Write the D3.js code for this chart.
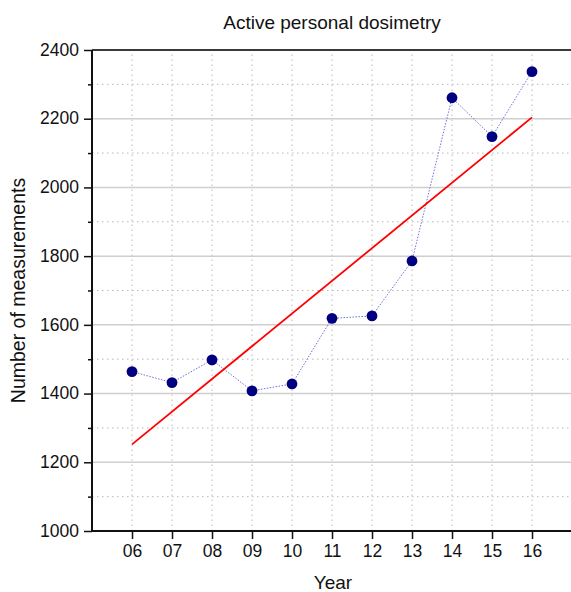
<!DOCTYPE html>
<html>
<head>
<meta charset="utf-8">
<script src="https://cdn.jsdelivr.net/npm/d3@7"></script>
<style>
    body { margin: 0; background: #fff; }
    svg { display: block; font-family: "Liberation Sans", Arial, sans-serif; }
</style>
</head>
<body>
<div id="chart"></div>
<script>
// values
var years = [2006, 2007, 2008, 2009, 2010, 2011, 2012, 2013, 2014, 2015, 2016];
var yearLabels = ['06', '07', '08', '09', '10', '11', '12', '13', '14', '15', '16'];
var measurements = [1464, 1432, 1498, 1408, 1428, 1619, 1626, 1786, 2261, 2148, 2337];
var trendYears = [2006, 2016];
var trendValues = [1252, 2204];
var yMajorTicks = [1000, 1200, 1400, 1600, 1800, 2000, 2200, 2400];
var yMinorTicks = [1100, 1300, 1500, 1700, 1900, 2100, 2300];

var width = 571;
var height = 592;
var margin = {top: 50, right: -1, bottom: 61, left: 92};

var svg = d3.select('#chart')
    .append('svg')
    .attr('width', width)
    .attr('height', height);

var x = d3.scaleLinear()
    .domain([2005, 2017])
    .range([margin.left, width - margin.right]);

var y = d3.scaleLinear()
    .domain([1000, 2400])
    .range([height - margin.bottom, margin.top]);

// grid
var grid = svg.append('g');
grid.selectAll('line.vgrid')
    .data(years)
    .enter().append('line')
    .attr('x1', function(d) { return x(d); })
    .attr('x2', function(d) { return x(d); })
    .attr('y1', y(1000))
    .attr('y2', y(2400))
    .attr('stroke', '#b8b8b8')
    .attr('stroke-width', 1)
    .attr('stroke-dasharray', '1.5,3.5');

grid.selectAll('line.minor')
    .data(yMinorTicks)
    .enter().append('line')
    .attr('x1', x(2005))
    .attr('x2', width)
    .attr('y1', function(d) { return y(d); })
    .attr('y2', function(d) { return y(d); })
    .attr('stroke', '#b8b8b8')
    .attr('stroke-width', 1)
    .attr('stroke-dasharray', '1.5,3.5');

grid.selectAll('line.major')
    .data(yMajorTicks.slice(1, -1))
    .enter().append('line')
    .attr('x1', x(2005))
    .attr('x2', width)
    .attr('y1', function(d) { return y(d); })
    .attr('y2', function(d) { return y(d); })
    .attr('stroke', '#cfcfcf')
    .attr('stroke-width', 1.5);

// top frame line
svg.append('line')
    .attr('x1', x(2005))
    .attr('x2', width)
    .attr('y1', y(2400))
    .attr('y2', y(2400))
    .attr('stroke', '#3a3a3a')
    .attr('stroke-width', 2);

// axes
var yAxis = d3.axisLeft(y)
    .tickValues(yMajorTicks)
    .tickSize(8)
    .tickPadding(5)
    .tickFormat(d3.format('d'));
var yMinor = d3.axisLeft(y)
    .tickValues(yMinorTicks)
    .tickSize(4)
    .tickFormat('');
var xAxis = d3.axisBottom(x)
    .tickValues(years)
    .tickSize(8)
    .tickPadding(6)
    .tickFormat(function(d, i) { return yearLabels[i]; });

var yAxisG = svg.append('g')
    .attr('transform', 'translate(' + margin.left + ' 0)')
    .call(yAxis);
var yMinorG = svg.append('g')
    .attr('transform', 'translate(' + margin.left + ' 0)')
    .call(yMinor);
var xAxisG = svg.append('g')
    .attr('transform', 'translate(0 ' + (height - margin.bottom) + ')')
    .call(xAxis);

[yAxisG, yMinorG, xAxisG].forEach(function(g) {
    g.select('.domain').remove();
    g.selectAll('.tick line').attr('stroke', '#111').attr('stroke-width', 1.5);
    g.selectAll('.tick text')
        .attr('fill', '#111')
        .style('font-size', '17.5px')
        .style('font-family', '"Liberation Sans", Arial, sans-serif');
});
yAxisG.selectAll('.tick text').attr('dy', '0.3em');

svg.append('line')
    .attr('x1', margin.left)
    .attr('x2', margin.left)
    .attr('y1', y(2400))
    .attr('y2', y(1000) + 1)
    .attr('stroke', '#111')
    .attr('stroke-width', 2);
svg.append('line')
    .attr('x1', margin.left)
    .attr('x2', width)
    .attr('y1', y(1000))
    .attr('y2', y(1000))
    .attr('stroke', '#111')
    .attr('stroke-width', 2);

// data line
var line = d3.line()
    .x(function(d, i) { return x(years[i]); })
    .y(function(d) { return y(d); });

svg.append('path')
    .datum(measurements)
    .attr('d', line)
    .attr('fill', 'none')
    .attr('stroke', '#7070d8')
    .attr('stroke-width', 1)
    .attr('stroke-dasharray', '1.5,1.5');

// linear fit
var trendLine = d3.line()
    .x(function(d, i) { return x(trendYears[i]); })
    .y(function(d) { return y(d); });

svg.append('path')
    .datum(trendValues)
    .attr('d', trendLine)
    .attr('fill', 'none')
    .attr('stroke', '#ff0000')
    .attr('stroke-width', 1.8);

svg.selectAll('circle')
    .data(measurements)
    .enter().append('circle')
    .attr('cx', function(d, i) { return x(years[i]); })
    .attr('cy', function(d) { return y(d); })
    .attr('r', 5.4)
    .attr('fill', '#000080');

// texts
svg.append('text')
    .attr('x', 332)
    .attr('y', 29)
    .attr('text-anchor', 'middle')
    .attr('fill', '#111')
    .style('font-size', '19px')
    .text('Active personal dosimetry');

svg.append('text')
    .attr('x', 333)
    .attr('y', 589)
    .attr('text-anchor', 'middle')
    .attr('fill', '#111')
    .style('font-size', '19px')
    .text('Year');

svg.append('text')
    .attr('transform', 'translate(25 ' + ((y(1000) + y(2400)) / 2) + ') rotate(-90)')
    .attr('text-anchor', 'middle')
    .attr('fill', '#111')
    .style('font-size', '19.5px')
    .text('Number of measurements');
</script>
</body>
</html>
